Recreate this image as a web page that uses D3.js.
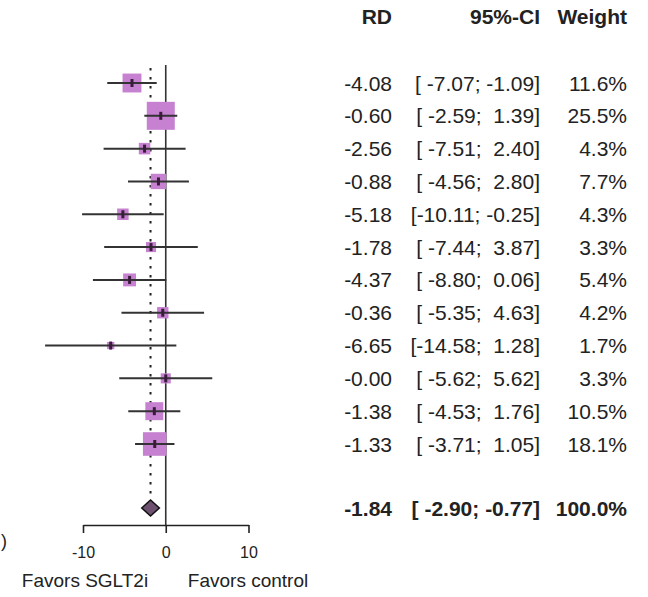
<!DOCTYPE html>
<html>
<head>
<meta charset="utf-8">
<script src="https://cdn.jsdelivr.net/npm/d3@7"></script>
<style>
  html, body { margin: 0; padding: 0; background: #fff; }
  svg { display: block; }
  text { font-family: "Liberation Sans", Arial, Helvetica, sans-serif; fill: #222; white-space: pre; }
</style>
</head>
<body>
<svg id="chart" width="648" height="597"></svg>
<script>
// Risk difference per study with 95% confidence limits and weights
const rd      = [-4.08, -0.60, -2.56, -0.88, -5.18, -1.78, -4.37, -0.36, -6.65, -0, -1.38, -1.33];
const ciLower = [-7.07, -2.59, -7.51, -4.56, -10.11, -7.44, -8.80, -5.35, -14.58, -5.62, -4.53, -3.71];
const ciUpper = [-1.09, 1.39, 2.40, 2.80, -0.25, 3.87, 0.06, 4.63, 1.28, 5.62, 1.76, 1.05];
const weights = [11.6, 25.5, 4.3, 7.7, 4.3, 3.3, 5.4, 4.2, 1.7, 3.3, 10.5, 18.1];

// Pooled estimate
const pooled = { rd: -1.84, lower: -2.90, upper: -0.77, weight: 100.0 };

const headers   = ["RD", "95%-CI", "Weight"];
const xTicks    = [-10, 0, 10];
const favorsLabels = ["Favors SGLT2i", "Favors control"];

const svg = d3.select("#chart");

const x = d3.scaleLinear().domain([-10, 10]).range([83, 248.5]);
const y = d3.scaleLinear().domain([0, rd.length - 1]).range([83, 444]);
const ySummary = 508;
const side = d3.scaleSqrt().domain([0, 25.5]).range([0, 28]);

const fmt2 = v => (v < 0 || Object.is(v, -0) ? "-" : "") + Math.abs(v).toFixed(2);
const fmtCI = (lo, hi) => "[" + fmt2(lo).padStart(6) + "; " + fmt2(hi).padStart(5) + "]";
const fmtW = w => w.toFixed(1) + "%";

const plotTop = 65, axisY = 525;

// reference line at zero
svg.append("line")
  .attr("x1", x(0)).attr("x2", x(0))
  .attr("y1", plotTop).attr("y2", axisY)
  .attr("stroke", "#333").attr("stroke-width", 1.6);

// dotted line at pooled estimate
svg.append("line")
  .attr("x1", x(pooled.rd)).attr("x2", x(pooled.rd))
  .attr("y1", plotTop + 3).attr("y2", ySummary - 8)
  .attr("stroke", "#222").attr("stroke-width", 2)
  .attr("stroke-dasharray", "2.5,6.5");

const rows = d3.range(rd.length).map(i => ({
  i, rd: rd[i], lo: ciLower[i], hi: ciUpper[i], w: weights[i]
}));

// weight squares
svg.selectAll("rect.sq").data(rows).join("rect")
  .attr("class", "sq")
  .attr("x", d => x(d.rd) - side(d.w) / 2)
  .attr("y", d => y(d.i) - side(d.w) / 2)
  .attr("width", d => side(d.w))
  .attr("height", d => side(d.w))
  .attr("fill", "#c681d0");

// confidence intervals
svg.selectAll("line.ci").data(rows).join("line")
  .attr("class", "ci")
  .attr("x1", d => x(d.lo)).attr("x2", d => x(d.hi))
  .attr("y1", d => y(d.i)).attr("y2", d => y(d.i))
  .attr("stroke", "#333").attr("stroke-width", 2);

// point estimates
svg.selectAll("line.pt").data(rows).join("line")
  .attr("class", "pt")
  .attr("x1", d => x(d.rd)).attr("x2", d => x(d.rd))
  .attr("y1", d => y(d.i) - 4).attr("y2", d => y(d.i) + 4)
  .attr("stroke", "#3a1b3c").attr("stroke-width", 3);

// pooled diamond
const dh = 8;
svg.append("path")
  .attr("d", `M${x(pooled.lower)},${ySummary} L${x(pooled.rd)},${ySummary - dh} L${x(pooled.upper)},${ySummary} L${x(pooled.rd)},${ySummary + dh} Z`)
  .attr("fill", "#6e5070").attr("stroke", "#111").attr("stroke-width", 1.5);

// x axis
const axis = d3.axisBottom(x).tickValues(xTicks).tickSize(8).tickSizeOuter(0).tickPadding(14)
  .tickFormat(d3.format("d"));
const gAxis = svg.append("g").attr("transform", `translate(0,${axisY})`).call(axis);
gAxis.select(".domain").attr("stroke", "#222").attr("stroke-width", 1.6);
gAxis.selectAll(".tick line").attr("stroke", "#222").attr("stroke-width", 1.6);
gAxis.selectAll(".tick text")
  .style("font-family", "'Liberation Sans', Arial, sans-serif")
  .attr("font-size", 16).attr("fill", "#333")
  .text(d => d < 0 ? "-" + Math.abs(d) : d);

// favors labels
svg.append("text").attr("x", 85).attr("y", 587).attr("text-anchor", "middle")
  .attr("font-size", 19).text(favorsLabels[0]);
svg.append("text").attr("x", 248).attr("y", 587).attr("text-anchor", "middle")
  .attr("font-size", 19).text(favorsLabels[1]);

// closing bracket of the panel letter at the left margin
svg.append("text").attr("x", 1).attr("y", 547).attr("text-anchor", "start")
  .attr("font-size", 18).text(")");

// table columns
const colRD = 392, colCI = 540, colW = 627;
const fs = 21;
const headerY = 24;
[[headers[0], colRD], [headers[1], colCI], [headers[2], colW]].forEach(([t, cx]) => {
  svg.append("text").attr("x", cx).attr("y", headerY).attr("text-anchor", "end")
    .attr("font-size", fs).attr("font-weight", "bold").attr("fill", "#111").text(t);
});

const base = 7.5;
const tbl = svg.append("g");
tbl.selectAll("text.rd").data(rows).join("text").attr("class", "rd")
  .attr("x", colRD).attr("y", d => y(d.i) + base).attr("text-anchor", "end")
  .attr("font-size", fs).text(d => fmt2(d.rd));
tbl.selectAll("text.ci").data(rows).join("text").attr("class", "ci")
  .attr("x", colCI).attr("y", d => y(d.i) + base).attr("text-anchor", "end")
  .attr("font-size", fs).text(d => fmtCI(d.lo, d.hi));
tbl.selectAll("text.w").data(rows).join("text").attr("class", "w")
  .attr("x", colW).attr("y", d => y(d.i) + base).attr("text-anchor", "end")
  .attr("font-size", fs).text(d => fmtW(d.w));

// pooled row
[[fmt2(pooled.rd), colRD], [fmtCI(pooled.lower, pooled.upper), colCI], [fmtW(pooled.weight), colW]].forEach(([t, cx]) => {
  svg.append("text").attr("x", cx).attr("y", ySummary + base).attr("text-anchor", "end")
    .attr("font-size", fs).attr("font-weight", "bold").attr("fill", "#111").text(t);
});
</script>
</body>
</html>
